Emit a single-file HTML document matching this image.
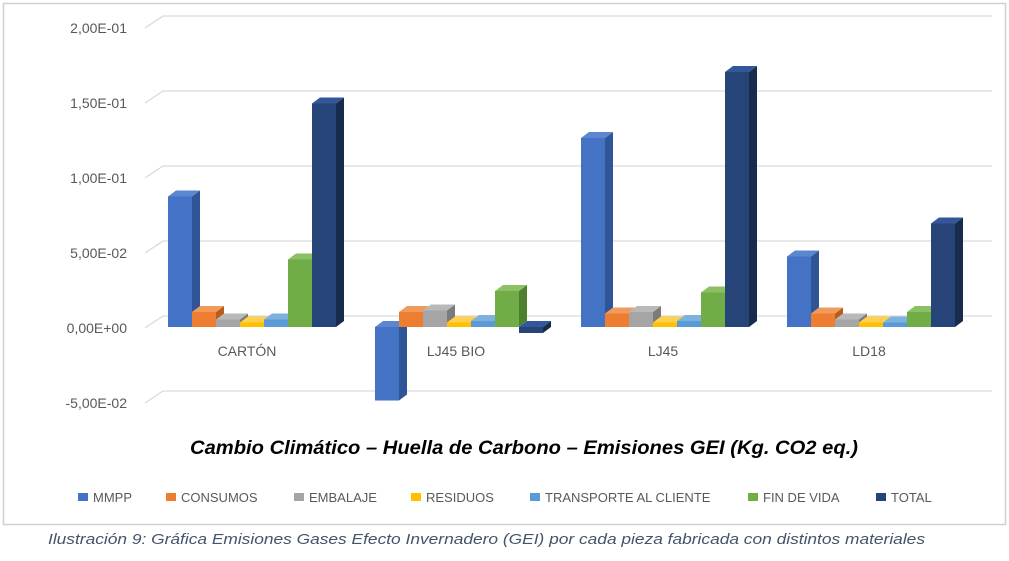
<!DOCTYPE html>
<html><head><meta charset="utf-8"><style>
body{margin:0;background:#fff;width:1009px;height:556px;overflow:hidden}
</style></head><body>
<svg id="s" width="1009" height="556" xmlns="http://www.w3.org/2000/svg" font-family="Liberation Sans, sans-serif">
<rect x="3.5" y="3.5" width="1002" height="521" fill="#fff" stroke="#d0d0d0" stroke-width="1.5"/>
<g id="grid" stroke="#d9d9d9" stroke-width="1.3" fill="none"></g>
<g id="lab" font-size="14" fill="#595959" text-anchor="end"></g>
<g id="bars"></g>
<g font-size="14" fill="#595959" text-anchor="middle">
<text x="247" y="356">CARTÓN</text>
<text x="456" y="356">LJ45 BIO</text>
<text x="663" y="356">LJ45</text>
<text x="869" y="356">LD18</text>
</g>
<text x="190" y="454" textLength="668" lengthAdjust="spacingAndGlyphs" font-size="19" font-weight="bold" font-style="italic" fill="#000">Cambio Climático – Huella de Carbono – Emisiones GEI (Kg. CO2 eq.)</text>
<g font-size="13" fill="#595959">
<rect x="78" y="493" width="10" height="8" fill="#4472c4"/><text x="93" y="502">MMPP</text>
<rect x="166" y="493" width="10" height="8" fill="#ed7d31"/><text x="181" y="502">CONSUMOS</text>
<rect x="294" y="493" width="10" height="8" fill="#a5a5a5"/><text x="309" y="502">EMBALAJE</text>
<rect x="411" y="493" width="10" height="8" fill="#ffc000"/><text x="426" y="502">RESIDUOS</text>
<rect x="530" y="493" width="10" height="8" fill="#5b9bd5"/><text x="545" y="502">TRANSPORTE AL CLIENTE</text>
<rect x="748" y="493" width="10" height="8" fill="#70ad47"/><text x="763" y="502">FIN DE VIDA</text>
<rect x="876" y="493" width="10" height="8" fill="#264478"/><text x="891" y="502">TOTAL</text>
</g>
<text x="48" y="544" textLength="877" lengthAdjust="spacingAndGlyphs" font-size="15" font-style="italic" fill="#44546a">Ilustración 9: Gráfica Emisiones Gases Efecto Invernadero (GEI) por cada pieza fabricada con distintos materiales</text>
</svg>
<script>
var NS="http://www.w3.org/2000/svg";
function el(p,t,a,txt){var e=document.createElementNS(NS,t);for(var k in a)e.setAttribute(k,a[k]);if(txt)e.textContent=txt;document.getElementById(p).appendChild(e);}
function Y(v){return 327-v*1500;}
var labs=["-5,00E-02","0,00E+00","5,00E-02","1,00E-01","1,50E-01","2,00E-01"];
for(var i=0;i<6;i++){var v=-0.05+i*0.05,y=Y(v)+1;
el("grid","polyline",{points:"145,"+y+" 163,"+(y-12)+" 992,"+(y-12)});
el("lab","text",{x:127,y:y+5},labs[i]);}
var cols=[["#4472c4","#2f5597","#5b86d0"],["#ed7d31","#b85c1e","#f09a5c"],["#a5a5a5","#7b7b7b","#b9b9b9"],["#ffc000","#c49300","#ffd04d"],["#5b9bd5","#3f79b0","#7fb1df"],["#70ad47","#4e8030","#8cc065"],["#264478","#172b4d","#33579a"]];
var data=[[0.087,0.01,0.005,0.003,0.005,0.045,0.149],[-0.049,0.01,0.011,0.003,0.004,0.024,-0.004],[0.126,0.009,0.01,0.003,0.004,0.023,0.17],[0.047,0.009,0.005,0.003,0.003,0.01,0.069]];
var gx=[168,375,581,787];
for(var g=0;g<4;g++)for(var b=0;b<7;b++){
var v=data[g][b],x=gx[g]+b*24,w=24,d=8,h=6;
var yt=Math.min(Y(0),Y(v)),yb=Math.max(Y(0),Y(v));
el("bars","polygon",{points:(x+w)+","+yt+" "+(x+w+d)+","+(yt-h)+" "+(x+w+d)+","+(yb-h)+" "+(x+w)+","+yb,fill:cols[b][1]});
el("bars","polygon",{points:x+","+yt+" "+(x+d)+","+(yt-h)+" "+(x+w+d)+","+(yt-h)+" "+(x+w)+","+yt,fill:cols[b][2]});
el("bars","rect",{x:x,y:yt,width:w,height:Math.max(yb-yt,1),fill:cols[b][0]});
}
</script>
</body></html>
